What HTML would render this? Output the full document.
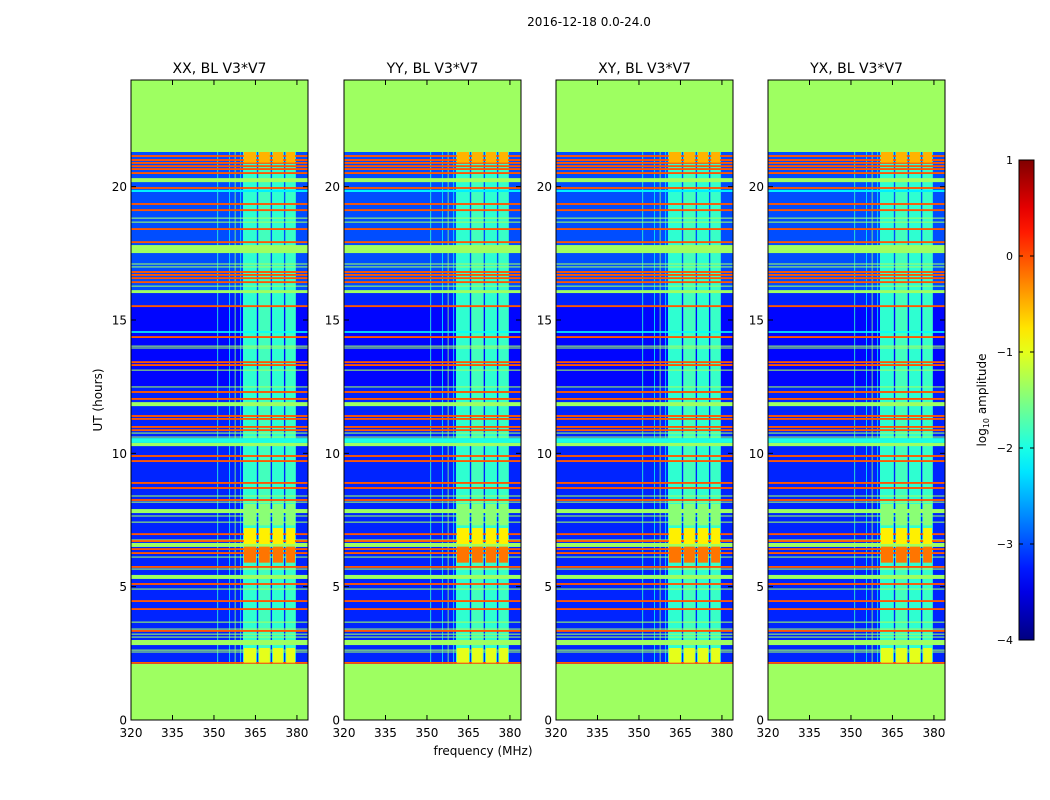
<!DOCTYPE html>
<html><head><meta charset="utf-8">
<style>
body{margin:0;background:#fff;width:1050px;height:800px;overflow:hidden;font-family:"DejaVu Sans","Liberation Sans",sans-serif;}
#wrap{position:relative;width:1050px;height:800px;}
svg{position:absolute;left:0;top:0;}
</style></head>
<body>
<div id="wrap">
<svg id="svg" width="1050" height="800"></svg>
</div>
<script>
// ---- data ----
const panelTitles = ["XX, BL V3*V7","YY, BL V3*V7","XY, BL V3*V7","YX, BL V3*V7"];
const xTicks = [320,335,350,365,380];
const yTicks = [0,5,10,15,20];
const cbTicks = [1,0,-1,-2,-3,-4];
const flagRegions = [[0,2.1],[21.3,24]];
const bgLevels = [[2.1,16.1,-3.2],[16.1,21.3,-3.0],[12.5,15.5,-3.35]];
const vBands = [[360.5,365.5,-1.9],[366,370.5,-1.8],[371,375.3,-1.9],[375.8,379.6,-1.85]];
const vLines = [[351.2,-1.9],[355.5,-2.2],[357.5,-1.5],[359.5,-2.2]];
const orangeHours = [21.15,21.0,20.89,20.77,20.66,20.51,19.95,19.35,19.12,18.41,17.92,16.8,16.69,16.57,16.42,15.52,14.36,13.42,13.31,12.3,12.04,11.4,11.29,10.99,10.87,9.9,9.71,8.89,8.7,8.25,6.97,6.71,6.41,6.26,5.74,5.1,4.46,4.16,3.34,2.14];
const greenHours = [18.82,18.67,17.1,16.99,16.27,14.02,13.95,13.12,12.49,10.76,10.61,8.4,8.17,7.65,7.42,6.75,6.11,5.66,4.91,3.67,3.41,3.22,3.11,2.62,2.55];
const greenBands = [[20.17,20.32],[17.51,17.81],[16.01,16.12],[11.77,11.92],[10.27,10.39],[7.76,7.91],[6.49,6.64],[5.29,5.44],[2.81,3.0]];
const cyanBands = [[19.8,19.88,-2.2],[14.52,14.58,-2.1],[10.39,10.57,-2.0]];
const boxRows = [[5.9,6.5,-0.2],[6.6,7.2,-0.8],[2.15,2.7,-1.0],[20.9,21.3,-0.5],[7.3,8.1,-1.45]];

// ---- geometry ----
const panelX = [131,344,556,768], PW=177, PT=80, PB=720;
const fMin=320, fMax=384, hMin=0, hMax=24;
function xs(f,i){return panelX[i]+(f-fMin)/(fMax-fMin)*PW;}
function ys(h){return PB-(h-hMin)/(hMax-hMin)*(PB-PT);}
function jet(v){const t=Math.max(0,Math.min(1,(v+4)/5));const c=x=>Math.round(255*Math.max(0,Math.min(1,1.5-Math.abs(x))));return `rgb(${c(4*t-3)},${c(4*t-2)},${c(4*t-1)})`;}
const NS="http://www.w3.org/2000/svg";
const svg=document.getElementById('svg');
function el(tag,attrs,parent){const e=document.createElementNS(NS,tag);for(const k in attrs)e.setAttribute(k,attrs[k]);(parent||svg).appendChild(e);return e;}
function txt(x,y,s,size,anchor,parent){const t=el('text',{x:x,y:y,'font-size':size,'text-anchor':anchor||'middle',fill:'#000','font-family':'"DejaVu Sans","Liberation Sans",sans-serif'},parent);t.textContent=s;return t;}

for(let i=0;i<4;i++){
  const g=el('g',{});
  
  
  const R=(f0,f1,h0,h1,v,name)=>{const x0=xs(f0,i),x1=xs(f1,i),y0=ys(h1),y1=ys(h0);
    const r=el('rect',{x:x0,y:y0,width:x1-x0,height:Math.max(1,y1-y0),fill:jet(v)},g);
    
    };
  bgLevels.forEach(b=>R(fMin,fMax,b[0],b[1],b[2],'heatmap-background'));
  vBands.forEach(b=>R(b[0],b[1],2.1,21.3,b[2],'heatmap-band'));
  vLines.forEach(l=>R(l[0],l[0]+0.3,2.1,21.3,l[1],'heatmap-vline'));
  cyanBands.forEach(b=>R(fMin,fMax,b[0],b[1],b[2],'heatmap-cyan-row'));
  greenBands.forEach(b=>R(fMin,fMax,b[0],b[1],-1.35,'heatmap-flag-row'));
  greenHours.forEach(h=>R(fMin,fMax,h-0.02,h+0.02,-1.35,'heatmap-green-line'));
  orangeHours.forEach(h=>R(fMin,fMax,h-0.035,h+0.035,-0.05,'heatmap-orange-line'));
  boxRows.forEach(b=>vBands.forEach(v=>R(v[0]+0.3,v[1]-0.3,b[0],b[1],b[2],'heatmap-box')));
  flagRegions.forEach(b=>R(fMin,fMax,b[0],b[1],-1.35,'heatmap-flagged'));
  const fr=el('rect',{x:panelX[i],y:PT,width:PW,height:PB-PT,fill:'none',stroke:'#000','stroke-width':1},g);
  
  
  const tt=txt(panelX[i]+PW/2,73,panelTitles[i],14,'middle',g);
  
  
  xTicks.forEach(f=>{const x=xs(f,i);
    el('line',{x1:x,x2:x,y1:PB,y2:PB-5,stroke:'#000'},g);el('line',{x1:x,x2:x,y1:PT,y2:PT+5,stroke:'#000'},g);
    const l=txt(x,737,String(f),12,'middle',g);
    
    });
  yTicks.forEach(h=>{const y=ys(h);
    el('line',{x1:panelX[i],x2:panelX[i]+5,y1:y,y2:y,stroke:'#000'},g);el('line',{x1:panelX[i]+PW,x2:panelX[i]+PW-5,y1:y,y2:y,stroke:'#000'},g);
    const l=txt(panelX[i]-4,y+4.5,String(h),12,'end',g);
    
    });
}
const st=txt(589,26,'2016-12-18 0.0-24.0',12);


const xl=txt(483,755,'frequency (MHz)',12);


const yl=txt(0,0,'UT (hours)',12);
yl.setAttribute('transform','translate(102,400) rotate(-90)');


const CBX=1019,CBW=15,CBT=160,CBB=640;
const defs=el('defs',{});
const grad=el('linearGradient',{id:'jg',x1:0,y1:1,x2:0,y2:0},defs);
for(let k=0;k<=20;k++){const v=-4+5*k/20;el('stop',{offset:k/20,'stop-color':jet(v)},grad);}
const cb=el('rect',{x:CBX,y:CBT,width:CBW,height:CBB-CBT,fill:'url(#jg)',stroke:'#000'});


cbTicks.forEach(v=>{const y=CBB-(v+4)/5*(CBB-CBT);
  el('line',{x1:CBX,x2:CBX+4,y1:y,y2:y,stroke:'#000'});el('line',{x1:CBX+CBW,x2:CBX+CBW-4,y1:y,y2:y,stroke:'#000'});
  const l=txt(1013,y+4,(v<0?'\u2212':'')+Math.abs(v),11,'end');
  
  });
const cl=el('text',{transform:'translate(986,400) rotate(-90)','font-size':12,'text-anchor':'middle','font-family':'"DejaVu Sans","Liberation Sans",sans-serif'});
cl.innerHTML='log<tspan font-size="8" dy="3">10</tspan><tspan dy="-3"> amplitude</tspan>';


</script>
</body></html>
